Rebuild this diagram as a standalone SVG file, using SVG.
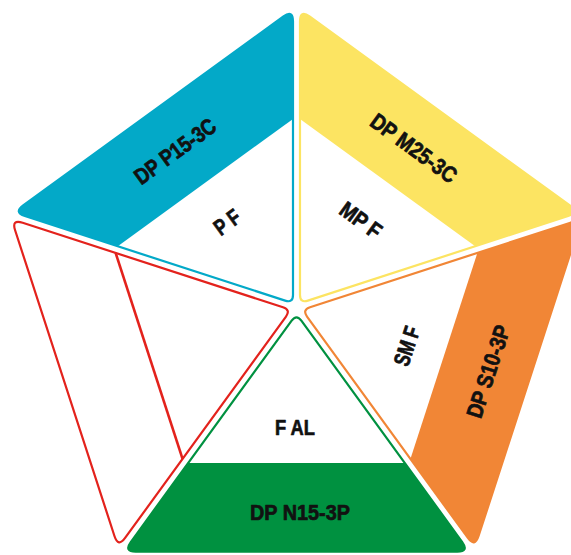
<svg xmlns="http://www.w3.org/2000/svg" width="571" height="555" viewBox="0 0 571 555">
<style>
.tri{fill:#ffffff;stroke-width:2.2;stroke-linejoin:round}
.lbl{font-family:"Liberation Sans",Arial,sans-serif;font-weight:bold;font-size:22.5px;fill:#111111;stroke:#111111;stroke-width:0.7;stroke-linejoin:round}
</style>
<defs>
<path id="tri" d="M12.64,-4.86 L234.07,-165.73 Q243.6,-172.65 243.6,-160.87 L243.6,160.87 Q243.6,172.65 234.07,165.73 L12.64,4.86 Q5.955,0 12.64,-4.86 Z"/>
<clipPath id="clip"><use href="#tri"/></clipPath>
</defs>
<rect x="0" y="0" width="571" height="555" fill="#ffffff"/>
<g id="node-blue">
 <g transform="translate(296.5,308) rotate(-126)">
  <use href="#tri" class="tri" stroke="#03a9c8"/>
  <rect x="155" y="-200" width="100" height="400" fill="#03a9c8" clip-path="url(#clip)"/>
 </g>
 <text class="lbl" transform="translate(175,151) rotate(-36)" x="-47.5" y="8" textLength="95" lengthAdjust="spacingAndGlyphs">DP P15-3C</text>
 <text class="lbl" transform="translate(227,222) rotate(-36)" x="-13.5" y="8" textLength="27" lengthAdjust="spacingAndGlyphs">P F</text>
</g>
<g id="node-yellow">
 <g transform="translate(296.5,308) rotate(-54)">
  <use href="#tri" class="tri" stroke="#fce462"/>
  <rect x="155" y="-200" width="100" height="400" fill="#fce462" clip-path="url(#clip)"/>
 </g>
 <text class="lbl" transform="translate(414,148) rotate(36)" x="-50.5" y="8" textLength="101" lengthAdjust="spacingAndGlyphs">DP M25-3C</text>
 <text class="lbl" transform="translate(361,220) rotate(36)" x="-23" y="8" textLength="46" lengthAdjust="spacingAndGlyphs">MP F</text>
</g>
<g id="node-orange">
 <g transform="translate(296.5,308) rotate(18)">
  <use href="#tri" class="tri" stroke="#f18636"/>
  <rect x="155" y="-200" width="100" height="400" fill="#f18636" clip-path="url(#clip)"/>
 </g>
 <text class="lbl" transform="translate(488,371.5) rotate(-72)" x="-48" y="8" textLength="96" lengthAdjust="spacingAndGlyphs">DP S10-3P</text>
 <text class="lbl" transform="translate(406.5,346) rotate(-72)" x="-20" y="8" textLength="40" lengthAdjust="spacingAndGlyphs">SM F</text>
</g>
<g id="node-green">
 <g transform="translate(296.5,308) rotate(90)">
  <use href="#tri" class="tri" stroke="#009140"/>
  <rect x="155" y="-200" width="100" height="400" fill="#009140" clip-path="url(#clip)"/>
 </g>
 <text class="lbl" x="275" y="434.5" textLength="40" lengthAdjust="spacingAndGlyphs">F AL</text>
 <text class="lbl" x="250" y="519.5" textLength="100" lengthAdjust="spacingAndGlyphs">DP N15-3P</text>
</g>
<g id="node-red">
 <g transform="translate(296.5,308) rotate(162)">
  <use href="#tri" class="tri" stroke="#e3221c" stroke-width="2.6"/>
  <line x1="155" y1="-108.3" x2="155" y2="108.3" stroke="#e3221c" stroke-width="2.6"/>
 </g>
</g>
<g id="connectors"></g>
</svg>
